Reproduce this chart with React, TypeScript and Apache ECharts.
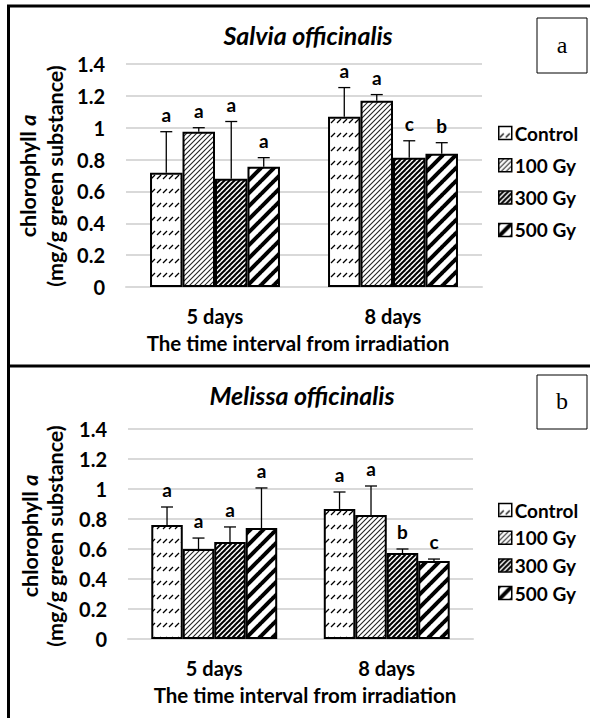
import React, { useEffect, useRef } from "react";
import * as echarts from "echarts";

const categories = ["5 days", "8 days"];
const seriesNames = ["Control", "100 Gy", "300 Gy", "500 Gy"];

// Panel a: Salvia officinalis (means and standard deviations)
const salviaControl = [0.717, 1.069];
const salvia100 = [0.975, 1.17];
const salvia300 = [0.679, 0.811];
const salvia500 = [0.755, 0.836];
const salviaControlSd = [0.258, 0.183];
const salvia100Sd = [0.025, 0.038];
const salvia300Sd = [0.36, 0.107];
const salvia500Sd = [0.057, 0.07];
const salviaControlLetters = ["a", "a"];
const salvia100Letters = ["a", "a"];
const salvia300Letters = ["a", "c"];
const salvia500Letters = ["a", "b"];

// Panel b: Melissa officinalis
const melissaControl = [0.76, 0.867];
const melissa100 = [0.6, 0.827];
const melissa300 = [0.647, 0.573];
const melissa500 = [0.74, 0.52];
const melissaControlSd = [0.12, 0.113];
const melissa100Sd = [0.073, 0.193];
const melissa300Sd = [0.1, 0.027];
const melissa500Sd = [0.267, 0.013];
const melissaControlLetters = ["a", "a"];
const melissa100Letters = ["a", "a"];
const melissa300Letters = ["a", "b"];
const melissa500Letters = ["a", "c"];

const FONT = "Lato";
const GAP = 0.27;

function makeTile(kind: string) {
  const c = document.createElement("canvas");
  let w = 8, h = 8;
  if (kind === "control") { w = 12; h = 14; }
  if (kind === "light") { w = 5; h = 5; }
  if (kind === "dark") { w = 5; h = 5; }
  if (kind === "wide") { w = 13; h = 13; }
  c.width = w; c.height = h;
  const g = c.getContext("2d")!;
  g.fillStyle = "#fff";
  g.fillRect(0, 0, w, h);
  g.strokeStyle = "#000";
  g.lineCap = "butt";
  if (kind === "control") {
    g.lineWidth = 1.3;
    for (const x0 of [1, 7]) {
      g.beginPath();
      g.moveTo(x0, 11);
      g.lineTo(x0 + 4, 7);
      g.stroke();
    }
  } else {
    g.lineWidth = kind === "light" ? 1.1 : kind === "dark" ? 2 : 4;
    if (kind === "light") g.strokeStyle = "#222";
    for (let k = -1; k <= 1; k++) {
      g.beginPath();
      g.moveTo(k * w - 1, h + 1);
      g.lineTo(k * w + w + 1, -1);
      g.stroke();
    }
  }
  return { image: c, repeat: "repeat", imageWidth: w, imageHeight: h } as any;
}

export default function App() {
  const ref = useRef<HTMLDivElement>(null);
  useEffect(() => {
    if (!ref.current) return;
    const chart = echarts.init(ref.current, null, { renderer: "svg" });
    const patterns = [makeTile("control"), makeTile("light"), makeTile("dark"), makeTile("wide")];

    const panels = [
      {
        means: [salviaControl, salvia100, salvia300, salvia500],
        sds: [salviaControlSd, salvia100Sd, salvia300Sd, salvia500Sd],
        letters: [salviaControlLetters, salvia100Letters, salvia300Letters, salvia500Letters],
      },
      {
        means: [melissaControl, melissa100, melissa300, melissa500],
        sds: [melissaControlSd, melissa100Sd, melissa300Sd, melissa500Sd],
        letters: [melissaControlLetters, melissa100Letters, melissa300Letters, melissa500Letters],
      },
    ];

    const series: any[] = [];
    panels.forEach((p, gi) => {
      seriesNames.forEach((name, si) => {
        series.push({
          type: "bar",
          name,
          xAxisIndex: gi,
          yAxisIndex: gi,
          data: p.means[si],
          barGap: "0%",
          barCategoryGap: GAP * 100 + "%",
          itemStyle: { color: patterns[si], borderColor: "#000", borderWidth: 2 },
          emphasis: { disabled: true },
        });
      });
      const items: number[][] = [];
      const lets: string[] = [];
      seriesNames.forEach((_, si) => {
        categories.forEach((_c, ci) => {
          const m = p.means[si][ci];
          items.push([ci, si, m, m + p.sds[si][ci]]);
          lets.push(p.letters[si][ci]);
        });
      });
      series.push({
        type: "custom",
        name: "err" + gi,
        xAxisIndex: gi,
        yAxisIndex: gi,
        z: 10,
        data: items,
        encode: { x: 0, y: [2, 3] },
        renderItem: (params: any, api: any) => {
          const c = api.value(0), s = api.value(1), m = api.value(2), t = api.value(3);
          const base = api.coord([c, m]);
          const top = api.coord([c, t]);
          const cw = api.size([1, 0])[0];
          const bw = (cw * (1 - GAP)) / 4;
          const x = base[0] + (s - 1.5) * bw;
          const st = { stroke: "#000", lineWidth: 1.3 };
          return {
            type: "group",
            children: [
              { type: "line", shape: { x1: x, y1: base[1], x2: x, y2: top[1] }, style: st },
              { type: "line", shape: { x1: x - 6, y1: top[1], x2: x + 6, y2: top[1] }, style: st },
              {
                type: "text",
                x,
                y: top[1] - 8,
                style: {
                  text: lets[params.dataIndex],
                  fontFamily: FONT,
                  fontWeight: "bold",
                  fontSize: 19,
                  fill: "#000",
                  align: "center",
                  verticalAlign: "bottom",
                },
              },
            ],
          };
        },
      });
    });

    const axisLabel = { fontFamily: FONT, fontWeight: "bold", fontSize: 20, color: "#000" };
    const gridColor = "#d9d9d9";
    const mkX = (gi: number) => ({
      type: "category",
      gridIndex: gi,
      data: categories,
      axisTick: { show: false },
      axisLine: { lineStyle: { color: gridColor, width: 2 } },
      axisLabel: { ...axisLabel, margin: 19 },
    });
    const mkY = (gi: number) => ({
      type: "value",
      gridIndex: gi,
      min: 0,
      max: 1.4,
      interval: 0.2,
      axisLine: { show: false },
      axisTick: { show: false },
      splitLine: { lineStyle: { color: gridColor, width: 2 } },
      axisLabel: { ...axisLabel, margin: 21 },
    });
    const LF = 19;
    const mkLegend = (top: number, gap: number) => ({
      orient: "vertical",
      left: 493,
      top,
      itemGap: gap,
      itemWidth: 13,
      itemHeight: 13,
      icon: "rect",
      data: seriesNames,
      selectedMode: false,
      itemStyle: { borderColor: "#000", borderWidth: 1.5 },
      textStyle: { fontFamily: FONT, fontWeight: "bold", fontSize: LF, color: "#000", padding: [0, 0, 0, -2] },
    });

    const txt = (text: string, x: number, y: number, size: number, extra: any = {}) => ({
      type: "text",
      x,
      y,
      style: {
        text,
        fontFamily: FONT,
        fontWeight: "bold",
        fontSize: size,
        fill: "#000",
        align: "center",
        verticalAlign: "middle",
        ...extra,
      },
    });
    const YT = 21.5;
    const yTitle = (x1: number, x2: number, y: number) => [
      {
        type: "text",
        x: x1,
        y,
        rotation: Math.PI / 2,
        style: {
          text: "chlorophyll {i|a}",
          fontFamily: FONT,
          fontWeight: "bold",
          fontSize: YT,
          fill: "#000",
          align: "center",
          verticalAlign: "middle",
          rich: { i: { fontFamily: FONT, fontWeight: "bold", fontStyle: "italic", fontSize: YT, fill: "#000" } },
        },
      },
      {
        type: "text",
        x: x2,
        y,
        rotation: Math.PI / 2,
        style: {
          text: "(mg/g green substance)",
          fontFamily: FONT,
          fontWeight: "bold",
          fontSize: YT,
          fill: "#000",
          align: "center",
          verticalAlign: "middle",
        },
      },
    ];

    chart.setOption({
      animation: false,
      backgroundColor: "#fff",
      grid: [
        { left: 126, top: 64, width: 356, height: 223 },
        { left: 128, top: 429, width: 345, height: 210 },
      ],
      xAxis: [mkX(0), mkX(1)],
      yAxis: [mkY(0), mkY(1)],
      legend: [mkLegend(128 - LF / 2, 32.3 - LF), mkLegend(505 - LF / 2, 27.7 - LF)],
      series,
      graphic: [
        { type: "line", shape: { x1: 8.5, y1: 5, x2: 8.5, y2: 718 }, style: { stroke: "#000", lineWidth: 3 } },
        { type: "line", shape: { x1: 7, y1: 6, x2: 590, y2: 6 }, style: { stroke: "#000", lineWidth: 3 } },
        { type: "line", shape: { x1: 7, y1: 366, x2: 590, y2: 366 }, style: { stroke: "#000", lineWidth: 3 } },
        { type: "rect", shape: { x: 537, y: 18, width: 50, height: 55 }, style: { fill: "#fff", stroke: "#000", lineWidth: 1 } },
        { type: "rect", shape: { x: 537, y: 375, width: 50, height: 54 }, style: { fill: "#fff", stroke: "#000", lineWidth: 1 } },
        txt("a", 562, 45, 24, { fontFamily: "Liberation Serif", fontWeight: "normal" }),
        txt("b", 562, 401, 24, { fontFamily: "Liberation Serif", fontWeight: "normal" }),
        txt("Salvia officinalis", 308, 35, 25, { fontStyle: "italic" }),
        txt("Melissa officinalis", 302, 395, 25, { fontStyle: "italic" }),
        txt("The time interval from irradiation", 298, 343, 20.5),
        txt("The time interval from irradiation", 305, 695, 20.5),
        ...yTitle(28, 55, 176),
        ...yTitle(30, 55, 536),
      ],
    });
    return () => chart.dispose();
  }, []);
  return (
    <div
      ref={ref}
      style={{ position: "absolute", left: 0, top: 0, width: 590, height: 718, background: "#fff" }}
    />
  );
}
